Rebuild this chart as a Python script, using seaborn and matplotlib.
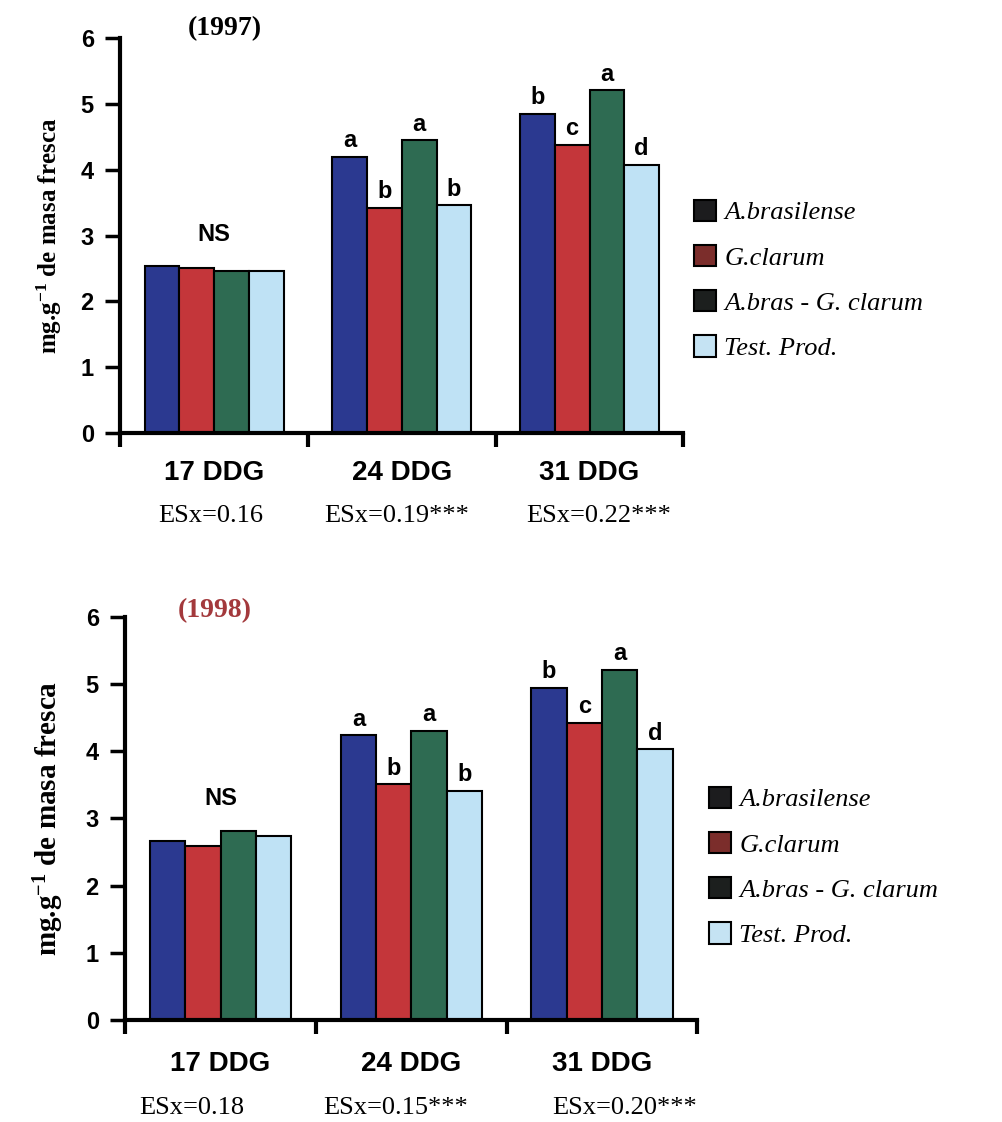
import pandas as pd
import matplotlib
matplotlib.use('Agg')
import matplotlib.pyplot as plt
from matplotlib.patches import Patch
import seaborn as sns

# datos
grupos = ['17 DDG', '24 DDG', '31 DDG']
tratamientos = ['A.brasilense', 'G.clarum', 'A.bras - G. clarum', 'Test. Prod.']
yticks = [0, 1, 2, 3, 4, 5, 6]

# 1997
abras_97 = [2.54, 4.20, 4.85]
gclar_97 = [2.51, 3.42, 4.38]
mixto_97 = [2.47, 4.45, 5.21]
testp_97 = [2.47, 3.46, 4.08]
letras_97 = [['', 'a', 'b'], ['', 'b', 'c'], ['', 'a', 'a'], ['', 'b', 'd']]
esx_97 = ['ESx=0.16', 'ESx=0.19***', 'ESx=0.22***']

# 1998
abras_98 = [2.67, 4.24, 4.95]
gclar_98 = [2.59, 3.51, 4.42]
mixto_98 = [2.82, 4.31, 5.21]
testp_98 = [2.74, 3.41, 4.03]
letras_98 = [['', 'a', 'b'], ['', 'b', 'c'], ['', 'a', 'a'], ['', 'b', 'd']]
esx_98 = ['ESx=0.18', 'ESx=0.15***', 'ESx=0.20***']

colores = ['#2b3990', '#c4363a', '#2e6b52', '#bfe2f5']
colores_leyenda = ['#1c1c1e', '#7b2d2b', '#1c1f1e', '#c5e3f3']

sns.set_style('ticks')
plt.rcParams['font.family'] = ['Liberation Sans', 'DejaVu Sans']
plt.rcParams['mathtext.fontset'] = 'custom'
plt.rcParams['mathtext.rm'] = 'Liberation Serif:bold'
plt.rcParams['mathtext.it'] = 'Liberation Serif:bold'
plt.rcParams['mathtext.bf'] = 'Liberation Serif:bold'
for k in ['text.color', 'axes.labelcolor', 'xtick.color', 'ytick.color', 'axes.edgecolor']:
    plt.rcParams[k] = 'black'


def armar_df(series):
    filas = []
    for trat, vals in zip(tratamientos, series):
        for g, v in zip(grupos, vals):
            filas.append({'grupo': g, 'trat': trat, 'valor': v})
    return pd.DataFrame(filas)


def dibujar(ax, df, letras, esx, titulo, color_titulo, tit_pos, ylab_size, ylab_pad,
            lab_y, esx_y, esx_dx):
    sns.barplot(data=df, x='grupo', y='valor', hue='trat', hue_order=tratamientos,
                palette=colores, width=0.74, saturation=1, edgecolor='black',
                linewidth=1.5, legend=False, ax=ax)
    ax.set_ylim(0, 6)
    ax.set_xlim(-0.5, 2.5)
    ax.set_xticks([-0.5, 0.5, 1.5, 2.5])
    ax.set_xticklabels([])
    ax.set_yticks(yticks)
    ax.set_yticklabels([str(v) for v in yticks], fontsize=17, fontweight='bold')
    ax.tick_params(axis='x', length=10, width=3, direction='out')
    ax.tick_params(axis='y', length=11, width=2.5, direction='out', pad=8)
    sns.despine(ax=ax)
    ax.spines['left'].set_linewidth(3)
    ax.spines['bottom'].set_linewidth(3)
    ax.set_xlabel('')
    ax.set_ylabel(r'mg.g$^{-1}$ de masa fresca', family='Liberation Serif',
                  fontweight='bold', fontsize=ylab_size, labelpad=ylab_pad)

    # letras sobre las barras
    for cont, lets in zip(ax.containers, letras):
        for barra, l in zip(cont, lets):
            if l:
                ax.text(barra.get_x() + barra.get_width() / 2, barra.get_height() + 0.07, l,
                        ha='center', va='bottom', fontsize=17, fontweight='bold')
    # NS del primer grupo
    alto = max(c[0].get_height() for c in ax.containers)
    ax.text(0, alto + 0.3, 'NS', ha='center', va='bottom', fontsize=17, fontweight='bold')

    tr = ax.get_xaxis_transform()
    for i, g in enumerate(grupos):
        ax.text(i, lab_y, g, transform=tr, ha='center', va='center',
                fontsize=20, fontweight='bold')
        ax.text(i + esx_dx[i], esx_y, esx[i], transform=tr, ha='center', va='center',
                fontsize=19, family='Liberation Serif')

    ax.text(tit_pos[0], tit_pos[1], titulo, transform=ax.transAxes, ha='center', va='center',
            fontsize=20, fontweight='bold', family='Liberation Serif', color=color_titulo)


fig = plt.figure(figsize=(10.02, 11.22), dpi=100)
ax1 = fig.add_axes([0.120, 0.614, 0.562, 0.352])
ax2 = fig.add_axes([0.125, 0.091, 0.571, 0.359])

dibujar(ax1, armar_df([abras_97, gclar_97, mixto_97, testp_97]), letras_97, esx_97,
        '(1997)', 'black', (0.185, 1.023), 18, 12, -0.10, -0.21, [-0.02, -0.03, 0.05])
dibujar(ax2, armar_df([abras_98, gclar_98, mixto_98, testp_98]), letras_98, esx_98,
        '(1998)', '#a3393c', (0.157, 1.015), 21, 14, -0.11, -0.218, [-0.15, -0.08, 0.12])

handles = [Patch(facecolor=c, edgecolor='black', linewidth=1.5) for c in colores_leyenda]
for x0, y0 in [(670, 176), (685, 763)]:
    fig.legend(handles=handles, labels=tratamientos, loc='upper left',
               bbox_to_anchor=(x0 / 1002, 1 - y0 / 1122), frameon=False, handlelength=0.85,
               handleheight=0.85, handletextpad=0.3, labelspacing=0.78,
               prop={'family': 'Liberation Serif', 'style': 'italic', 'size': 19})

fig.savefig('out.png', dpi=100)
